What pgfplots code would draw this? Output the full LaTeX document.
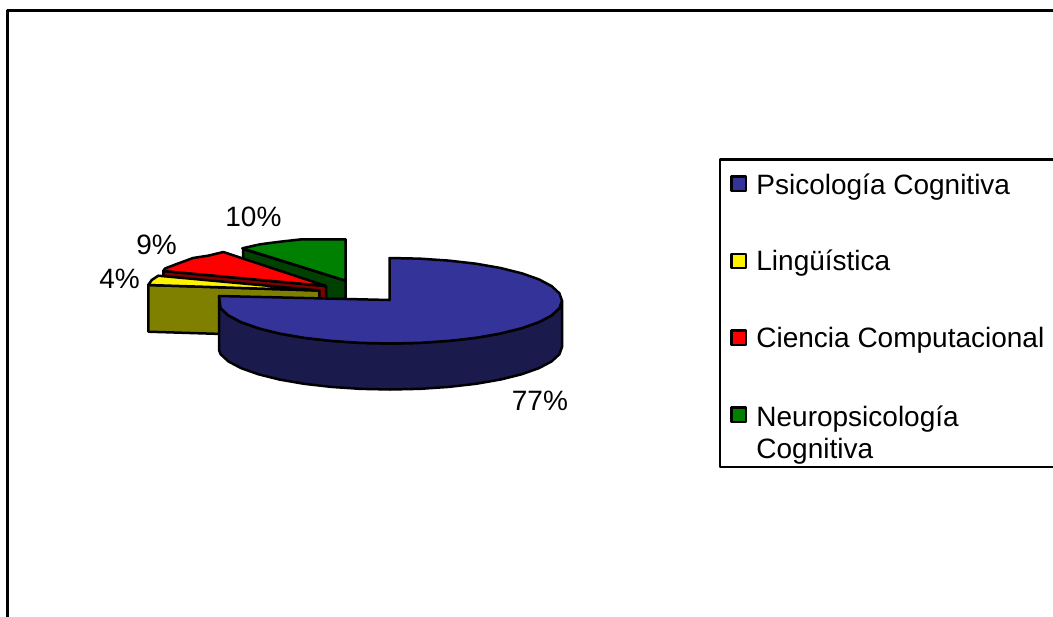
\documentclass[border=0pt]{standalone}
\usepackage{pgfplots}
\pgfplotsset{compat=1.18}
\usepackage{fontspec}
\setmainfont{Liberation Sans}
\definecolor{azul}{HTML}{333399}
\definecolor{azulosc}{HTML}{1A1A4D}
\definecolor{oliva}{HTML}{808000}
\definecolor{rojoosc}{HTML}{800000}
\definecolor{verde}{HTML}{008000}
\definecolor{verdeosc}{HTML}{004000}
\begin{document}
\begin{tikzpicture}[x=1pt,y=1pt]
\useasboundingbox (0,0) rectangle (526.5,308);
\begin{axis}[
  at={(0,0)}, anchor=south west,
  width=526.5pt, height=308pt, scale only axis,
  xmin=0, xmax=1053, ymin=0, ymax=616, y dir=reverse,
  hide axis, clip=true,
  every axis plot/.append style={line width=1.25pt, line join=round, draw=black},
]
% chart frame
\addplot[fill=white] coordinates {(7.7,10.3) (1070,10.3) (1070,640) (7.7,640)} -- cycle;

% Neuropsicología Cognitiva, 10%
\addplot[fill=verdeosc] coordinates {(243,249) (345.7,280.7) (345.7,327) (243,295)} -- cycle;
\addplot[fill=verde] coordinates {(242.3,248.3) (260,244.3) (280,241.7) (301.7,239.3) (345.7,239.3) (345.7,280.7)} -- cycle;

% Ciencia Computacional, 9%
\addplot[fill=rojoosc] coordinates {(163.3,271) (326,286) (326,332) (163.3,317)} -- cycle;
\addplot[fill=red] coordinates {(163.3,271) (165,268.5) (176.7,264) (193,258) (208,255.7) (223.3,252) (326,286)} -- cycle;

% Lingüística, 4%
\addplot[fill=oliva] coordinates {(148.3,285) (319.3,290.5) (319.3,337) (148.3,331.7)} -- cycle;
\addplot[fill=yellow] coordinates {(148.3,285) (151.7,280) (158.3,275.7) (319.3,290.5)} -- cycle;

% Psicología Cognitiva, 77%
\addplot[fill=azulosc] coordinates {
  (562,300.75) (559.4,308.2) (551.6,315.4) (539,322.1) (521.8,328.2) (500.6,333.5)
  (476,337.8) (448.8,340.9) (419.9,342.85) (390,343.5) (360.1,342.85) (331.2,340.9)
  (304,337.8) (279.2,333.5) (258.2,328.2) (241,322.1) (228.4,315.4) (220.6,308.2) (219,296)
  (219,350) (220.6,354.2) (228.4,361.4) (241,368.1) (258.2,374.2) (279.2,379.5)
  (304,383.8) (331.2,386.9) (360.1,388.85) (390,389.5) (419.9,388.85) (448.8,386.9)
  (476,383.8) (500.6,379.5) (521.8,374.2) (539,368.1) (551.6,361.4) (559.4,354.2) (562,347)
} -- cycle;
\addplot[fill=azul] coordinates {
  (389.5,300) (389.5,258) (419.9,258.65) (448.8,260.6) (476,263.7) (500.6,268)
  (521.8,273.3) (539,279.4) (551.6,286.1) (559.4,293.3) (562,300.75)
  (559.4,308.2) (551.6,315.4) (539,322.1) (521.8,328.2) (500.6,333.5)
  (476,337.8) (448.8,340.9) (419.9,342.85) (390,343.5) (360.1,342.85) (331.2,340.9)
  (304,337.8) (279.2,333.5) (258.2,328.2) (241,322.1) (228.4,315.4) (220.6,308.2) (219,296)
} -- cycle;

% legend box and swatches
\addplot[fill=white] coordinates {(720,159.5) (1070,159.5) (1070,467) (720,467)} -- cycle;
\addplot[fill=azul] coordinates {(731.5,176.5) (746,176.5) (746,191) (731.5,191)} -- cycle;
\addplot[fill=yellow] coordinates {(731.5,254) (746,254) (746,268) (731.5,268)} -- cycle;
\addplot[fill=red] coordinates {(731.5,330.5) (746,330.5) (746,345) (731.5,345)} -- cycle;
\addplot[fill=verde] coordinates {(731.5,407.5) (746,407.5) (746,422) (731.5,422)} -- cycle;

\begin{scope}[every node/.style={anchor=base west, inner sep=0pt, font=\fontsize{14}{14}\selectfont}]
  \node at (axis cs:511.5,410) {77\%};
  \node at (axis cs:225,226) {10\%};
  \node at (axis cs:136,254.3) {9\%};
  \node at (axis cs:99,288.7) {4\%};
  \node at (axis cs:756,194.7) {Psicología Cognitiva};
  \node at (axis cs:756,270) {Lingüística};
  \node at (axis cs:756,347.7) {Ciencia Computacional};
  \node at (axis cs:756,426) {Neuropsicología};
  \node at (axis cs:756,458.7) {Cognitiva};
\end{scope}
\end{axis}
\end{tikzpicture}
\end{document}
